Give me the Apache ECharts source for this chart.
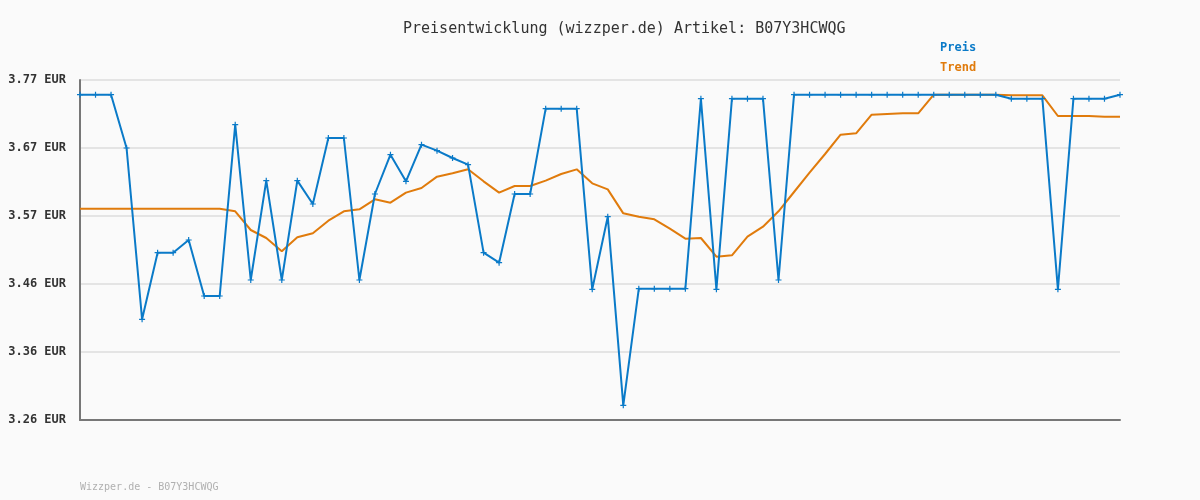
<!DOCTYPE html>
<html>
<head>
<meta charset="utf-8">
<script src="https://cdn.jsdelivr.net/npm/echarts@6/dist/echarts.min.js"></script>
<style>
html,body{margin:0;padding:0;background:#fafafa;}
#c{width:1200px;height:500px;}
</style>
</head>
<body>
<div id="c"></div>
<script>
// ---- data ----
const titleText = 'Preisentwicklung (wizzper.de) Artikel: B07Y3HCWQG';
const footerText = 'Wizzper.de - B07Y3HCWQG';
const yMin = 3.26;
const yMax = 3.77;
const yTickLabels = ['3.26 EUR', '3.36 EUR', '3.46 EUR', '3.57 EUR', '3.67 EUR', '3.77 EUR'];
const preis = [
  3.748, 3.748, 3.748, 3.668, 3.411, 3.511, 3.511, 3.530, 3.446, 3.446,
  3.703, 3.470, 3.619, 3.470, 3.619, 3.584, 3.683, 3.683, 3.470, 3.599,
  3.658, 3.618, 3.673, 3.664, 3.653, 3.643, 3.511, 3.496, 3.599, 3.599,
  3.727, 3.727, 3.727, 3.456, 3.565, 3.282, 3.457, 3.457, 3.457, 3.457,
  3.742, 3.456, 3.742, 3.742, 3.742, 3.470, 3.748, 3.748, 3.748, 3.748,
  3.748, 3.748, 3.748, 3.748, 3.748, 3.748, 3.748, 3.748, 3.748, 3.748,
  3.742, 3.742, 3.742, 3.456, 3.742, 3.742, 3.742, 3.748
];
const trend = [
  3.577, 3.577, 3.577, 3.577, 3.577, 3.577, 3.577, 3.577, 3.577, 3.577,
  3.573, 3.545, 3.533, 3.513, 3.534, 3.540, 3.559, 3.573, 3.576, 3.591,
  3.586, 3.601, 3.608, 3.625, 3.630, 3.636, 3.618, 3.601, 3.611, 3.611,
  3.619, 3.629, 3.636, 3.615, 3.606, 3.570, 3.565, 3.561, 3.547, 3.532,
  3.533, 3.505, 3.507, 3.535, 3.550, 3.573, 3.602, 3.631, 3.659, 3.688,
  3.690, 3.718, 3.719, 3.720, 3.720, 3.748, 3.748, 3.748, 3.748, 3.748,
  3.747, 3.747, 3.747, 3.716, 3.716, 3.716, 3.715, 3.715
];
const categories = preis.map((_, i) => String(i + 1));

const BLUE = '#0a7ac8';
const ORANGE = '#e07b0c';
const MONO = '"DejaVu Sans Mono", "Liberation Mono", monospace';

const chart = echarts.init(document.getElementById('c'));
chart.setOption({
  backgroundColor: '#fafafa',
  animation: false,
  title: [{
    text: titleText,
    left: 398,
    top: 17,
    textStyle: {fontFamily: MONO, fontSize: 15, fontWeight: 'normal', color: '#333'}
  }, {
    text: footerText,
    left: 75,
    top: 477,
    textStyle: {fontFamily: MONO, fontSize: 10, fontWeight: 'normal', color: '#b0b0b0'}
  }],
  legend: {
    orient: 'vertical',
    left: 930,
    top: 37,
    itemGap: 8,
    itemWidth: 0,
    itemHeight: 0,
    icon: 'rect',
    selectedMode: false,
    data: [
      {name: 'Preis', textStyle: {color: BLUE}},
      {name: 'Trend', textStyle: {color: ORANGE}}
    ],
    textStyle: {fontFamily: MONO, fontSize: 12, fontWeight: 'bold'}
  },
  grid: {left: 80, right: 80, top: 80, bottom: 80, containLabel: false},
  xAxis: {
    type: 'category',
    data: categories,
    boundaryGap: false,
    axisLine: {show: true, lineStyle: {color: '#777', width: 2}},
    axisTick: {show: false},
    axisLabel: {show: false},
    splitLine: {show: false}
  },
  yAxis: [{
    type: 'value',
    min: yMin,
    max: yMax,
    show: false
  }, {
    type: 'value',
    min: 0,
    max: yTickLabels.length - 1,
    interval: 1,
    position: 'left',
    axisLine: {show: true, lineStyle: {color: '#777', width: 2}},
    axisTick: {show: false},
    splitLine: {show: true, lineStyle: {color: '#e4e4e4', width: 2}},
    axisLabel: {
      margin: 14,
      padding: [3, 0, 0, 0],
      fontFamily: MONO,
      fontSize: 12,
      fontWeight: 'bold',
      color: '#333',
      formatter: v => yTickLabels[Math.round(v)]
    }
  }],
  series: [{
    name: 'Preis',
    type: 'line',
    yAxisIndex: 0,
    data: preis,
    color: BLUE,
    lineStyle: {width: 2, color: BLUE},
    symbol: 'path://M2,0H3V2H5V3H3V5H2V3H0V2H2Z',
    symbolSize: 6,
    showSymbol: true,
    itemStyle: {color: BLUE},
    z: 3
  }, {
    name: 'Trend',
    type: 'line',
    yAxisIndex: 0,
    data: trend,
    color: ORANGE,
    lineStyle: {width: 2, color: ORANGE},
    showSymbol: false,
    symbol: 'none',
    z: 2
  }]
});
</script>
</body>
</html>
